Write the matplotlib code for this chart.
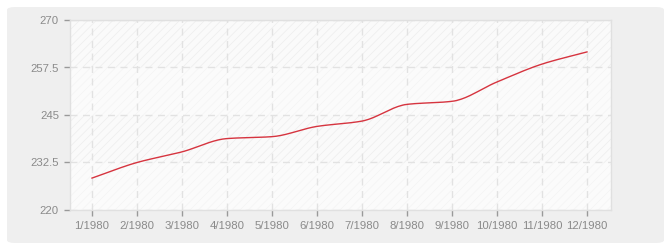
import numpy as np
import matplotlib
matplotlib.use("Agg")
import matplotlib.pyplot as plt
from matplotlib.patches import FancyBboxPatch

months = ["1/1980", "2/1980", "3/1980", "4/1980", "5/1980", "6/1980",
          "7/1980", "8/1980", "9/1980", "10/1980", "11/1980", "12/1980"]
values = [228.4, 232.5, 235.3, 238.8, 239.3, 242.0, 243.4, 247.8, 248.6, 253.7, 258.4, 261.6]
yticks = [220, 232.5, 245, 257.5, 270]
ytick_labels = ["220", "232.5", "245", "257.5", "270"]


def monotone_curve(x, y, n=20):
    x = np.asarray(x, float); y = np.asarray(y, float)
    h = np.diff(x); d = np.diff(y) / h
    m = np.zeros_like(y)
    m[0], m[-1] = d[0], d[-1]
    for i in range(1, len(y) - 1):
        if d[i - 1] * d[i] <= 0:
            m[i] = 0
        else:
            w1 = 2 * h[i] + h[i - 1]; w2 = h[i] + 2 * h[i - 1]
            m[i] = (w1 + w2) / (w1 / d[i - 1] + w2 / d[i])
    xs, ys = [], []
    for i in range(len(x) - 1):
        t = np.linspace(0, 1, n, endpoint=(i == len(x) - 2))
        h00 = 2 * t**3 - 3 * t**2 + 1; h10 = t**3 - 2 * t**2 + t
        h01 = -2 * t**3 + 3 * t**2; h11 = t**3 - t**2
        xs.append(x[i] + t * h[i])
        ys.append(h00 * y[i] + h10 * h[i] * m[i] + h01 * y[i + 1] + h11 * h[i] * m[i + 1])
    return np.concatenate(xs), np.concatenate(ys)


plt.rcParams['hatch.linewidth'] = 0.5
plt.rcParams['font.family'] = ['Liberation Sans', 'DejaVu Sans']
fig = plt.figure(figsize=(6.7, 2.5), dpi=100)
fig.patch.set_facecolor("white")
panel = FancyBboxPatch((7 / 670, 7 / 250), 657 / 670, 236 / 250,
                       boxstyle="round,pad=0,rounding_size=0.012",
                       transform=fig.transFigure, facecolor="#efefef",
                       edgecolor="none", zorder=-10)
fig.patches.append(panel)

ax = fig.add_axes([70 / 670, 40 / 250, 541 / 670, 190 / 250])
ax.set_facecolor("#fbfbfb")
x = np.arange(len(values))
ax.set_xlim((70 - 92) / 45, (611 - 92) / 45)
ax.set_ylim(220, 270)

for i in range(len(yticks) - 1):
    if i % 2 == 1:
        ax.axhspan(yticks[i], yticks[i + 1], facecolor="#fafafa",
                   edgecolor="#ededed", hatch="////", linewidth=0, zorder=0)
    else:
        ax.axhspan(yticks[i], yticks[i + 1], facecolor="#fbfbfb",
                   edgecolor="#f4f4f4", hatch="////", linewidth=0, zorder=0)

ax.grid(True, color="#e2e2e2", linestyle=(0, (5, 4)), linewidth=1, zorder=1)
xs, ys = monotone_curve(x, values)
ax.plot(xs, ys, color="#d6343f", linewidth=1, zorder=3)

ax.set_xticks(x)
ax.set_xticklabels(months)
ax.set_yticks(yticks)
ax.set_yticklabels(ytick_labels)
ax.tick_params(colors="#999999", labelcolor="#8a8a8a", labelsize=8.2,
               length=4, width=1, pad=4)
for s in ax.spines.values():
    s.set_color("#e0e0e0")
    s.set_linewidth(1)

fig.savefig("out.png", dpi=100, facecolor="white")
